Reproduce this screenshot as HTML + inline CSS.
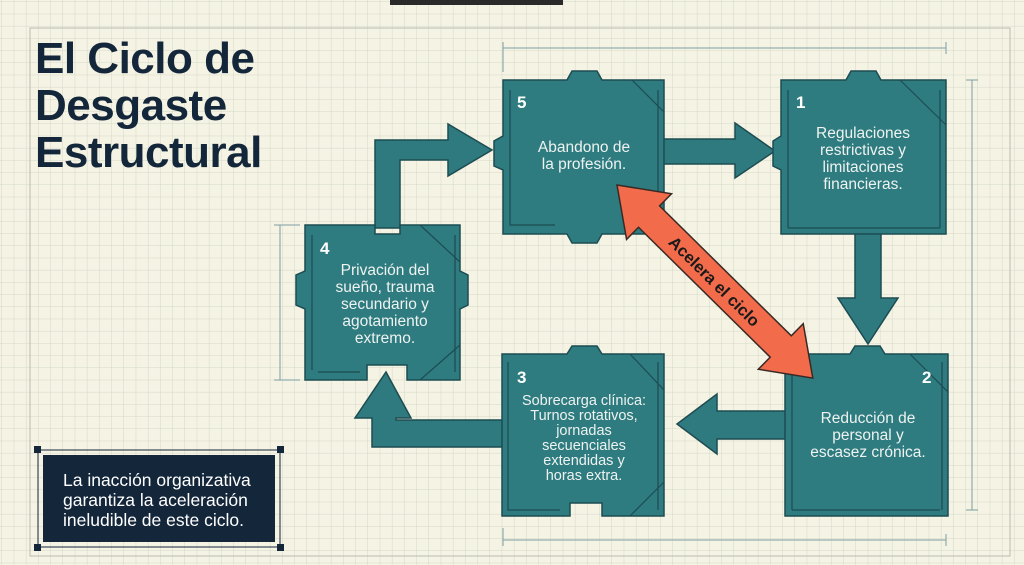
<!DOCTYPE html>
<html><head><meta charset="utf-8"><style>
html,body{margin:0;padding:0;background:#f5f3e4;}
svg{display:block;font-family:"Liberation Sans",sans-serif;}
</style></head><body>
<svg width="1024" height="565" viewBox="0 0 1024 565" xmlns="http://www.w3.org/2000/svg">
<defs>
<pattern id="g" width="12.2" height="12.2" patternUnits="userSpaceOnUse" x="2" y="2">
<path d="M12.2 0V12.2H0" fill="none" stroke="#d4d8c8" stroke-width="1"/>
</pattern>
</defs>
<rect width="1024" height="565" fill="#f5f3e4"/>
<rect width="1024" height="565" fill="url(#g)"/>
<rect x="390" y="0" width="173" height="5" fill="#2a2a2a"/>
<rect x="30" y="28" width="980" height="528" fill="none" stroke="#b9bdb0" stroke-width="1"/>

<g stroke="#7f9ea3" stroke-width="1" fill="none">
<path d="M503 48H946M503 42V72M946 42V54"/>
<path d="M972 80V510M966 80H978M966 510H978"/>
<path d="M280 225V380M274 225H300M274 380H300"/>
<path d="M503 540H946M503 528V546M946 534V546"/>
</g>

<g fill="#2e7a7f" stroke="#1d4c52" stroke-width="1.5">
<path d="M375 228V140H448V124L492 150L448 176V160H400V228Z"/>
<path d="M660 139H735V123L775 151L735 178V164H660Z"/>
<path d="M855 230V298H838L868 344L898 298H881V230Z"/>
<path d="M790 411H717V394L677 424L717 454V439H790Z"/>
<path d="M505 420H396V418H411L386 372L355 418H372V447H505Z"/>
</g>

<g fill="#2e7b80" stroke="#1d4c52" stroke-width="1.5">
<path d="M503 80H567L572 71H597L602 80H664V234H602L597 243H572L567 234H503V170L494 166V141L503 136Z"/>
<path d="M781 80H846L851 71H876L881 80H946V234H781V170L773 166V141L781 136Z"/>
<path d="M305 225H375V234H400V225H460V271L468 275V305L460 309V380H407V365H367V380H305V309L296 305V275L305 271Z"/>
<path d="M502 354H567L572 346H597L602 354H664V516H602V503H570V516H502Z"/>
<path d="M785 354H850L855 346H880L885 354H948V516H785Z"/>
</g>
<g stroke="#1d4c52" stroke-width="1.2" fill="none">
<path d="M510 90V225H555M632 80L664 112M658 90V230"/>
<path d="M788 90V228M900 80L946 125M940 90V228M788 228H940"/>
<path d="M312 235V370M420 225L460 262M455 235V372M318 372H360M420 380L460 345"/>
<path d="M508 362V510H560M630 354L664 390M658 362V510M630 516L664 482"/>
<path d="M792 362V510M910 354L948 392M942 362V510M792 510H940"/>
</g>

<g fill="#ffffff" font-weight="bold" font-size="17">
<text x="517" y="108">5</text>
<text x="796" y="108">1</text>
<text x="320" y="254">4</text>
<text x="517" y="383">3</text>
<text x="922" y="383">2</text>
</g>
<g fill="#eef3f0" font-size="15.5" text-anchor="middle">
<text x="584" y="152">Abandono de</text>
<text x="584" y="169">la profesión.</text>
<text x="863" y="138">Regulaciones</text>
<text x="863" y="155">restrictivas y</text>
<text x="863" y="172">limitaciones</text>
<text x="863" y="189">financieras.</text>
<text x="385" y="275">Privación del</text>
<text x="385" y="292">sueño, trauma</text>
<text x="385" y="309">secundario y</text>
<text x="385" y="326">agotamiento</text>
<text x="385" y="343">extremo.</text>
<text x="584" y="405" font-size="14.5">Sobrecarga clínica:</text>
<text x="584" y="420" font-size="14.5">Turnos rotativos,</text>
<text x="584" y="435" font-size="14.5">jornadas</text>
<text x="584" y="450" font-size="14.5">secuenciales</text>
<text x="584" y="465" font-size="14.5">extendidas y</text>
<text x="584" y="480" font-size="14.5">horas extra.</text>
<text x="868" y="423">Reducción de</text>
<text x="868" y="440">personal y</text>
<text x="868" y="457">escasez crónica.</text>
</g>

<g transform="translate(617,185) rotate(44.6)">
<path d="M0 0L45 -32V-15H230V-32L275 0L230 32V15H45V32Z" fill="#f26b4a" stroke="#3a2a25" stroke-width="1.5"/>
<text x="137" y="6" text-anchor="middle" font-size="16.5" font-weight="bold" fill="#1a1a1a">Acelera el ciclo</text>
</g>

<g fill="#13263a" font-weight="bold" font-size="44" letter-spacing="-0.5">
<text x="35" y="73">El Ciclo de</text>
<text x="35" y="120">Desgaste</text>
<text x="35" y="167">Estructural</text>
</g>

<rect x="38" y="450" width="242" height="97" fill="none" stroke="#13263a" stroke-width="1"/>
<rect x="43" y="455" width="232" height="87" fill="#13263a"/>
<g fill="#13263a">
<rect x="34" y="446" width="7" height="7"/><rect x="277" y="446" width="7" height="7"/>
<rect x="34" y="544" width="7" height="7"/><rect x="277" y="544" width="7" height="7"/>
</g>
<g fill="#ffffff" font-size="17.5">
<text x="63" y="486">La inacción organizativa</text>
<text x="63" y="506">garantiza la aceleración</text>
<text x="63" y="526">ineludible de este ciclo.</text>
</g>
</svg>
</body></html>
